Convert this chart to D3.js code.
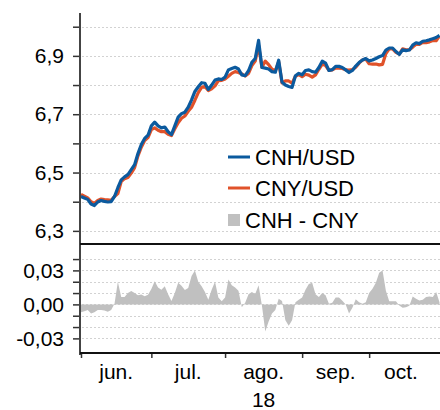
<!DOCTYPE html>
<head>
<meta charset="utf-8">
<title></title>
<style>
body { margin: 0; background: #fff; }
text {
  font-family: "Liberation Sans", Arial, sans-serif;
  fill: #000;
}
.grid line {
  stroke: #d2d2d2;
  stroke-width: 1px;
  stroke-dasharray: 2,2;
}
.axis path { display: none; }
.axis line { stroke: #333; stroke-width: 1.5px; }
.axis text { font-size: 21px; }
</style>
</head>
<body>
<script src="https://cdn.jsdelivr.net/npm/d3@7/dist/d3.min.js"></script>
<script>

// daily values, business days from 1 jun to end of oct 2018
var cnh = [6.418, 6.413, 6.408, 6.392, 6.387, 6.399, 6.404, 6.401, 6.399, 6.400,
  6.418, 6.448, 6.475, 6.485, 6.493, 6.510, 6.527, 6.565, 6.596, 6.617,
  6.628, 6.660, 6.673, 6.660, 6.653, 6.656, 6.640, 6.630, 6.660, 6.690,
  6.702, 6.707, 6.724, 6.749, 6.778, 6.794, 6.808, 6.806, 6.785, 6.800,
  6.817, 6.821, 6.819, 6.827, 6.852, 6.857, 6.861, 6.855, 6.835, 6.832,
  6.849, 6.878, 6.891, 6.953, 6.860, 6.858, 6.855, 6.846, 6.844, 6.885,
  6.810, 6.800, 6.795, 6.792, 6.832, 6.840, 6.835, 6.850, 6.852, 6.846,
  6.844, 6.860, 6.882, 6.875, 6.850, 6.853, 6.864, 6.864, 6.860, 6.852,
  6.843, 6.850, 6.865, 6.877, 6.886, 6.891, 6.883, 6.886, 6.891, 6.897,
  6.901, 6.920, 6.927, 6.927, 6.915, 6.905, 6.921, 6.918, 6.920, 6.937,
  6.945, 6.942, 6.950, 6.952, 6.955, 6.959, 6.963, 6.970];

var cny = [6.425, 6.419, 6.413, 6.400, 6.394, 6.404, 6.409, 6.407, 6.406, 6.405,
  6.418, 6.428, 6.469, 6.479, 6.483, 6.498, 6.517, 6.557, 6.587, 6.610,
  6.620, 6.647, 6.653, 6.645, 6.640, 6.640, 6.631, 6.627, 6.650, 6.671,
  6.686, 6.694, 6.710, 6.724, 6.748, 6.774, 6.792, 6.795, 6.781, 6.787,
  6.797, 6.815, 6.816, 6.821, 6.830, 6.840, 6.846, 6.843, 6.838, 6.831,
  6.840, 6.867, 6.882, 6.936, 6.861, 6.882, 6.870, 6.854, 6.849, 6.880,
  6.807, 6.814, 6.814, 6.806, 6.830, 6.836, 6.829, 6.837, 6.834, 6.827,
  6.835, 6.854, 6.872, 6.867, 6.850, 6.852, 6.858, 6.858, 6.857, 6.852,
  6.851, 6.853, 6.861, 6.875, 6.886, 6.889, 6.873, 6.872, 6.872, 6.869,
  6.871, 6.908, 6.924, 6.924, 6.912, 6.906, 6.924, 6.921, 6.921, 6.930,
  6.940, 6.939, 6.946, 6.945, 6.948, 6.953, 6.952, 6.968];

var spread = [-0.007, -0.006, -0.005, -0.008, -0.007, -0.005, -0.005, -0.0055, -0.0065, -0.005,
  0.0005, 0.020, 0.0065, 0.0065, 0.010, 0.0118, 0.010, 0.008, 0.0088, 0.0072,
  0.0085, 0.0135, 0.0205, 0.015, 0.013, 0.016, 0.009, 0.003, 0.010, 0.019,
  0.0165, 0.0126, 0.0145, 0.025, 0.030, 0.020, 0.016, 0.011, 0.004, 0.013,
  0.020, 0.006, 0.0027, 0.006, 0.022, 0.017, 0.015, 0.012, -0.0025, 0.0015,
  0.009, 0.011, 0.0092, 0.017, -0.001, -0.024, -0.015, -0.008, -0.005, 0.005,
  0.003, -0.014, -0.0188, -0.014, 0.002, 0.004, 0.006, 0.013, 0.018, 0.019,
  0.009, 0.0065, 0.010, 0.008, 0.0005, 0.0015, 0.006, 0.006, 0.0033, 0.0,
  -0.008, -0.003, 0.0045, 0.002, 0.0005, 0.002, 0.010, 0.0138, 0.019, 0.028,
  0.030, 0.012, 0.0027, 0.0027, 0.0027, -0.001, -0.003, -0.0025, -0.0011, 0.007,
  0.005, 0.0034, 0.004, 0.0066, 0.007, 0.0065, 0.011, 0.002];

var months = ["jun.", "jul.", "ago.", "sep.", "oct."];
var monthStart = [0, 21, 43, 66, 86];
var yearLabel = "18";

var topTicks = [6.3, 6.4, 6.5, 6.6, 6.7, 6.8, 6.9, 7.0];
var topLabels = [6.3, 6.5, 6.7, 6.9];
var botTicks = [-0.03, -0.02, -0.01, 0, 0.01, 0.02, 0.03, 0.04];
var botLabels = [-0.03, 0, 0.03];

var seriesNames = ["CNH/USD", "CNY/USD", "CNH - CNY"];
var colors = ["#0b5a9e", "#e0522a", "#c0c0c0"];

var width = 440,
    height = 410;

var locale = d3.formatLocale({decimal: ",", thousands: ".", grouping: [3], currency: ["", ""], minus: "-"});
var fTop = locale.format(".1f"),
    fBot = locale.format(".2f");

var x = d3.scaleLinear().domain([0, cnh.length - 1]).range([81, 439.5]);
var yTop = d3.scaleLinear().domain([6.255, 7.047]).range([244, 13]);
var yBot = d3.scaleLinear().domain([-0.0429, 0.0533]).range([353, 244]);

var svg = d3.select("body").append("svg")
    .attr("width", width)
    .attr("height", height);

// dotted gridlines
svg.append("g").attr("class", "grid")
    .selectAll("line")
    .data(topTicks)
    .enter().append("line")
    .attr("x1", 82).attr("x2", width)
    .attr("y1", function(d) { return Math.round(yTop(d)) + 0.5; })
    .attr("y2", function(d) { return Math.round(yTop(d)) + 0.5; });

svg.append("g").attr("class", "grid")
    .selectAll("line")
    .data(botTicks)
    .enter().append("line")
    .attr("x1", 82).attr("x2", width)
    .attr("y1", function(d) { return Math.round(yBot(d)) + 0.5; })
    .attr("y2", function(d) { return Math.round(yBot(d)) + 0.5; });

// spread area
var area = d3.area()
    .x(function(d, i) { return x(i); })
    .y0(yBot(0))
    .y1(function(d) { return yBot(d); });

svg.append("path")
    .datum(spread)
    .attr("d", area)
    .style("fill", colors[2]);

// rate lines
var lineTop = d3.line()
    .x(function(d, i) { return x(i); })
    .y(function(d) { return yTop(d); });

svg.append("path")
    .datum(cny)
    .attr("d", lineTop)
    .style("fill", "none")
    .style("stroke", colors[1])
    .style("stroke-width", 3.2)
    .style("stroke-linejoin", "round");

svg.append("path")
    .datum(cnh)
    .attr("d", lineTop)
    .style("fill", "none")
    .style("stroke", colors[0])
    .style("stroke-width", 3.2)
    .style("stroke-linejoin", "round");

// y axes
svg.append("g").attr("class", "axis")
    .attr("transform", "translate(80,0)")
    .call(d3.axisLeft(yTop).tickValues(topTicks).tickSize(7).tickPadding(9)
      .tickFormat(function(d) {
        return topLabels.some(function(v) { return Math.abs(v - d) < 1e-6; }) ? fTop(d) : "";
      }));

svg.append("g").attr("class", "axis")
    .attr("transform", "translate(80,0)")
    .call(d3.axisLeft(yBot).tickValues(botTicks).tickSize(7).tickPadding(9)
      .tickFormat(function(d) {
        return botLabels.some(function(v) { return Math.abs(v - d) < 1e-6; }) ? fBot(d) : "";
      }));

// x axis ticks at month starts
svg.append("g").attr("class", "axis")
    .attr("transform", "translate(0,353)")
    .call(d3.axisBottom(x).tickValues(monthStart).tickSize(5).tickFormat(""));

// month labels centred on each month
svg.append("g")
    .selectAll("text")
    .data(months)
    .enter().append("text")
    .attr("x", function(d, i) {
      var end = i < monthStart.length - 1 ? monthStart[i + 1] : cnh.length - 3;
      return x((monthStart[i] + end) / 2);
    })
    .attr("y", 379)
    .attr("text-anchor", "middle")
    .style("font-size", "21px")
    .text(function(d) { return d; });

svg.append("text")
    .attr("x", x((monthStart[2] + monthStart[3]) / 2))
    .attr("y", 407)
    .attr("text-anchor", "middle")
    .style("font-size", "21px")
    .text(yearLabel);

// frame lines
svg.append("line")
    .attr("x1", 80).attr("x2", 80).attr("y1", 13).attr("y2", 355)
    .style("stroke", "#444").style("stroke-width", 2);
svg.append("line")
    .attr("x1", 80).attr("x2", width).attr("y1", 244).attr("y2", 244)
    .style("stroke", "#111").style("stroke-width", 2);
svg.append("line")
    .attr("x1", 80).attr("x2", width).attr("y1", 353).attr("y2", 353)
    .style("stroke", "#111").style("stroke-width", 2);

// legend
var legend = svg.append("g").attr("transform", "translate(228,0)");
var legendY = [157, 188, 220];

legend.selectAll("line")
    .data([0, 1])
    .enter().append("line")
    .attr("x1", 0).attr("x2", 22)
    .attr("y1", function(d) { return legendY[d]; })
    .attr("y2", function(d) { return legendY[d]; })
    .style("stroke", function(d) { return colors[d]; })
    .style("stroke-width", 3);

legend.append("rect")
    .attr("x", 0).attr("y", legendY[2] - 6)
    .attr("width", 12).attr("height", 12)
    .style("fill", colors[2]);

legend.selectAll("text")
    .data(seriesNames)
    .enter().append("text")
    .attr("x", function(d, i) { return i < 2 ? 27 : 17; })
    .attr("y", function(d, i) { return legendY[i] + 7.5; })
    .style("font-size", "22px")
    .text(function(d) { return d; });

</script>
</body>
</html>
